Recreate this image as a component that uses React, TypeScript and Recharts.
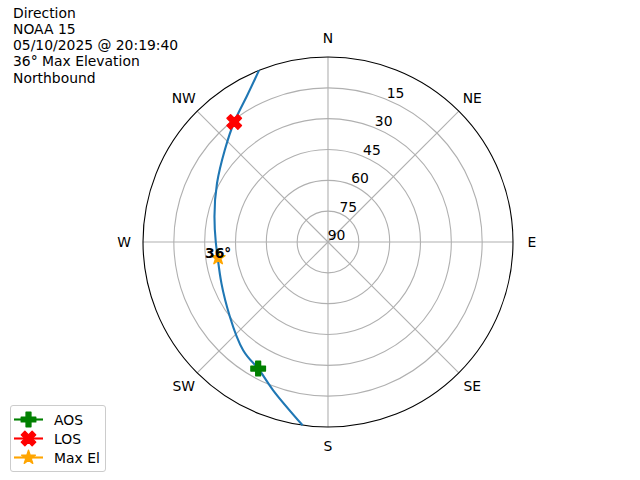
import React from 'react';
import {
  RadarChart,
  PolarGrid,
  PolarAngleAxis,
  PolarRadiusAxis,
  Radar,
  ComposedChart,
  XAxis,
  YAxis,
  Line,
  Scatter,
} from 'recharts';

// ---- data ----
const directions = ['N', 'NE', 'E', 'SE', 'S', 'SW', 'W', 'NW'];
const elevationTicks = [90, 75, 60, 45, 30, 15];
const trackAzimuth = [187.9, 200.3, 208.9, 218.1, 232.7, 248.8, 261.8, 270.0, 282.6, 297.9, 311.8, 322.0, 330.8, 338.1];
const trackElevation = [0, 13.1, 19.7, 23.1, 30.0, 34.4, 35.8, 35.4, 33.4, 28.9, 22.7, 15.9, 8.9, 0];
const aosPoint = { az: 208.9, el: 19.7 };
const losPoint = { az: 322.0, el: 15.9 };
const maxElevation = 36;
const maxElAzimuth = 261.8;
const satellite = 'NOAA 15';
const passTime = '05/10/2025 @ 20:19:40';
const passDirection = 'Northbound';
const titleLines = ['Direction', satellite, passTime, `${maxElevation}° Max Elevation`, passDirection];
const legendItems = [
  { name: 'AOS', color: '#008000', marker: 'plus' },
  { name: 'LOS', color: '#ff0000', marker: 'x' },
  { name: 'Max El', color: '#ffa500', marker: 'star' },
];

// ---- helpers ----
const FONT = '"DejaVu Sans", sans-serif';
const FS = 13.9;
const W = 640;
const H = 480;
const CX = 328;
const CY = 242;
const R = 185;
const MS = 14.5;

const toXY = (az: number, el: number) => {
  const r = 90 - el;
  const t = (az * Math.PI) / 180;
  return { x: r * Math.sin(t), y: r * Math.cos(t) };
};

const trackData = trackAzimuth.map((az, i) => toXY(az, trackElevation[i]));
const aosData = [toXY(aosPoint.az, aosPoint.el)];
const losData = [toXY(losPoint.az, losPoint.el)];
const maxData = [{ ...toXY(maxElAzimuth, maxElevation), label: `${maxElevation}°` }];
const radarData = directions.map((d) => ({ dir: d, v: 0 }));

const plusPts = [
  [-1, -3], [-1, -1], [-3, -1], [-3, 1], [-1, 1], [-1, 3],
  [1, 3], [1, 1], [3, 1], [3, -1], [1, -1], [1, -3],
];
const xPts = [
  [-1, -2], [0, -1], [1, -2], [2, -1], [1, 0], [2, 1],
  [1, 2], [0, 1], [-1, 2], [-2, 1], [-1, 0], [-2, -1],
];

const polyPath = (pts: number[][], scale: number, cx: number, cy: number) =>
  pts.map((p, i) => `${i === 0 ? 'M' : 'L'}${cx + p[0] * scale},${cy + p[1] * scale}`).join('') + 'Z';

const starPath = (cx: number, cy: number, size: number) => {
  const ro = size / 2;
  const ri = ro * 0.381966;
  let d = '';
  for (let i = 0; i < 10; i++) {
    const r = i % 2 === 0 ? ro : ri;
    const a = (i * 36 * Math.PI) / 180;
    d += `${i === 0 ? 'M' : 'L'}${cx + r * Math.sin(a)},${cy - r * Math.cos(a)}`;
  }
  return d + 'Z';
};

const Marker = ({ kind, cx, cy, color }: { kind: string; cx: number; cy: number; color: string }) => {
  let d = '';
  if (kind === 'plus') d = polyPath(plusPts, MS / 6, cx, cy);
  else if (kind === 'x') d = polyPath(xPts, MS / 4, cx, cy);
  else d = starPath(cx, cy, MS);
  return <path d={d} fill={color} stroke={color} strokeWidth={1.4} strokeLinejoin="round" />;
};

const renderAngleTick = (props: any) => {
  const { x, y, payload } = props;
  return (
    <text x={x} y={y} textAnchor="middle" dominantBaseline="central" fontSize={FS} fontFamily={FONT} fill="#000">
      {payload.value}
    </text>
  );
};

const renderRadiusTick = (props: any) => {
  const { x, y, payload } = props;
  return (
    <text x={x + 8.5} y={y - 7} textAnchor="middle" dominantBaseline="central" fontSize={FS} fontFamily={FONT} fill="#000">
      {90 - payload.value}
    </text>
  );
};

export default function App() {
  return (
    <div style={{ position: 'absolute', left: 0, top: 0, width: W, height: H, background: '#fff', fontFamily: FONT }}>
      <div style={{ position: 'absolute', left: 0, top: 0 }}>
        <RadarChart
          width={W}
          height={H}
          data={radarData}
          cx={CX}
          cy={CY}
          outerRadius={R}
          innerRadius={0}
          margin={{ top: 0, right: 0, bottom: 0, left: 0 }}
        >
          <PolarGrid gridType="circle" stroke="#b0b0b0" strokeWidth={1.1} />
          <PolarAngleAxis
            dataKey="dir"
            axisLineType="circle"
            axisLine={{ stroke: '#000', strokeWidth: 1.1 }}
            tickLine={false}
            tickSize={19}
            tick={renderAngleTick}
          />
          <PolarRadiusAxis
            type="number"
            domain={[0, 90]}
            ticks={elevationTicks.map((e) => 90 - e)}
            angle={67.5}
            axisLine={false}
            tickLine={false}
            tick={renderRadiusTick}
          />
          <Radar dataKey="v" stroke="none" fill="none" isAnimationActive={false} />
        </RadarChart>
      </div>
      <div style={{ position: 'absolute', left: 0, top: 0 }}>
        <ComposedChart
          width={W}
          height={H}
          margin={{ top: CY - R, bottom: H - CY - R, left: CX - R, right: W - CX - R }}
        >
          <XAxis type="number" dataKey="x" domain={[-90, 90]} allowDataOverflow hide />
          <YAxis type="number" domain={[-90, 90]} allowDataOverflow hide />
          <Line
            data={trackData}
            dataKey="y"
            type="natural"
            stroke="#1f77b4"
            strokeWidth={2.1}
            dot={false}
            activeDot={false}
            isAnimationActive={false}
          />
          <Scatter
            data={aosData}
            dataKey="y"
            isAnimationActive={false}
            shape={(p: any) => <Marker kind="plus" cx={p.cx} cy={p.cy} color="#008000" />}
          />
          <Scatter
            data={losData}
            dataKey="y"
            isAnimationActive={false}
            shape={(p: any) => <Marker kind="x" cx={p.cx} cy={p.cy} color="#ff0000" />}
          />
          <Scatter
            data={maxData}
            dataKey="y"
            isAnimationActive={false}
            shape={(p: any) => (
              <g>
                <Marker kind="star" cx={p.cx} cy={p.cy} color="#ffa500" />
                <text x={p.cx} y={p.cy} textAnchor="middle" fontSize={FS} fontWeight="bold" fontFamily={FONT} fill="#000">
                  {p.payload?.label ?? maxData[0].label}
                </text>
              </g>
            )}
          />
        </ComposedChart>
      </div>
      <div
        style={{
          position: 'absolute',
          left: 13,
          top: 4.5,
          fontSize: FS,
          lineHeight: '16.3px',
          color: '#000',
          whiteSpace: 'pre',
        }}
      >
        {titleLines.map((l) => (
          <div key={l}>{l}</div>
        ))}
      </div>
      <div
        style={{
          position: 'absolute',
          left: 10,
          top: 405,
          width: 94,
          height: 65,
          border: '1px solid #cccccc',
          borderRadius: 3,
          background: 'rgba(255,255,255,0.8)',
        }}
      >
        <svg width={94} height={65} style={{ position: 'absolute', left: 0, top: 0 }}>
          {legendItems.map((it, i) => {
            const y = 13.5 + i * 19;
            return (
              <g key={it.name}>
                <line x1={3} x2={32} y1={y} y2={y} stroke={it.color} strokeWidth={2.1} />
                <Marker kind={it.marker} cx={17.5} cy={y} color={it.color} />
                <text x={43} y={y} dominantBaseline="central" fontSize={FS} fontFamily={FONT} fill="#000">
                  {it.name}
                </text>
              </g>
            );
          })}
        </svg>
      </div>
    </div>
  );
}
